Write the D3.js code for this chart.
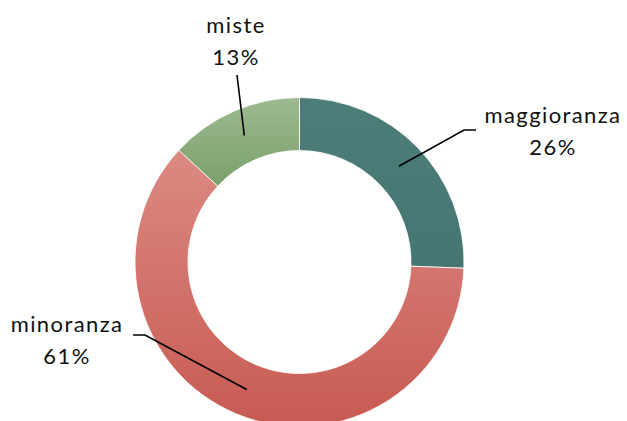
<!DOCTYPE html>
<html>
<head>
<meta charset="utf-8">
<script src="https://cdn.jsdelivr.net/npm/d3@7"></script>
<style>
  html, body { margin: 0; padding: 0; background: #fff; }
  svg { display: block; }
  .lbl { font-family: Lato, "Open Sans", sans-serif; font-size: 22px; fill: #111; letter-spacing: 1.4px; }
</style>
</head>
<body>
<svg id="chart"></svg>
<script>
// slice data, clockwise from 12 o'clock
const categories = ['maggioranza', 'minoranza', 'miste'];
const values = [25.6, 61.3, 13.1];
const pctLabels = ['26%', '61%', '13%'];

const width = 627;
const height = 421;
const cx = 299.5, cy = 262;
const outerR = 164.5, innerR = 111.5;

// gradient stops (top, bottom) per slice
const topColors = ['#4c7d79', '#db8a83', '#9dba92'];
const bottomColors = ['#467672', '#c75a52', '#7aa069'];

// where each label sits relative to its leader (elbow, horizontal end, text centre)
const leaders = [
  { elbow: [464, 130], end: [476, 130], text: [553, 123] },
  { elbow: [145, 335], end: [133, 335], text: [67, 332] },
  { elbow: null, end: [237, 75], text: [236, 33] }
];

const svg = d3.select('#chart').attr('width', width).attr('height', height);
const defs = svg.append('defs');

categories.forEach((c, i) => {
  const g = defs.append('linearGradient')
    .attr('id', 'grad' + i)
    .attr('x1', 0).attr('y1', 0).attr('x2', 0).attr('y2', 1);
  g.append('stop').attr('offset', '0%').attr('stop-color', topColors[i]);
  g.append('stop').attr('offset', '100%').attr('stop-color', bottomColors[i]);
});

const pie = d3.pie().sort(null).value(d => d);
const arcs = pie(values);
const arc = d3.arc().innerRadius(innerR).outerRadius(outerR);

const g = svg.append('g').attr('transform', `translate(${cx},${cy})`);

g.selectAll('path.slice')
  .data(arcs)
  .join('path')
  .attr('class', 'slice')
  .attr('d', arc)
  .attr('fill', (d, i) => `url(#grad${i})`)
  .attr('stroke', '#fff')
  .attr('stroke-width', 0.8);

// leader lines from the ring centroid
arcs.forEach((d, i) => {
  const [x0, y0] = arc.centroid(d);
  const L = leaders[i];
  const pts = [[x0 + cx, y0 + cy]];
  if (L.elbow) pts.push(L.elbow);
  pts.push(L.end);
  svg.append('path')
    .attr('d', d3.line()(pts))
    .attr('fill', 'none')
    .attr('stroke', '#000')
    .attr('stroke-width', 1.6);

  const t = svg.append('text')
    .attr('class', 'lbl')
    .attr('text-anchor', 'middle')
    .attr('x', L.text[0])
    .attr('y', L.text[1]);
  t.append('tspan').attr('x', L.text[0]).text(categories[i]);
  t.append('tspan').attr('x', L.text[0]).attr('dy', 32).text(pctLabels[i]);
});
</script>
</body>
</html>
